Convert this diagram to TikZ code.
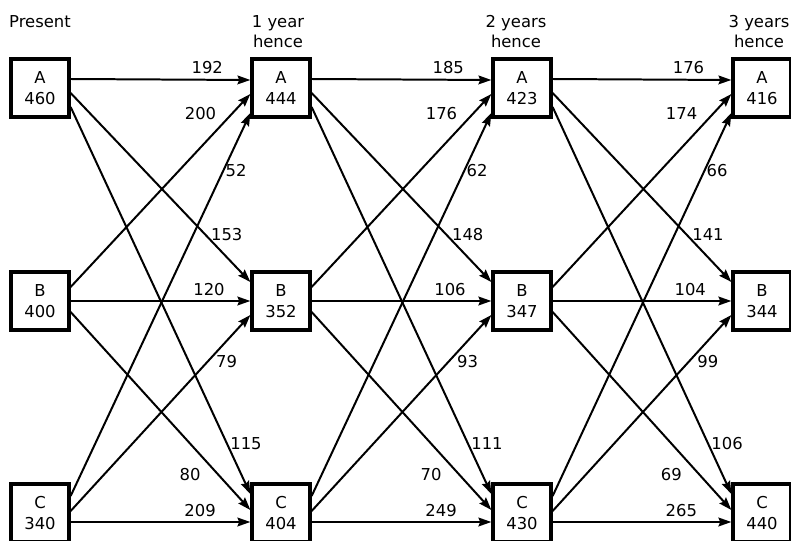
\documentclass[tikz,border=0pt]{standalone}
\usepackage{fontspec}
\setmainfont{DejaVu Sans}
\usetikzlibrary{arrows.meta,calc,positioning}
\tikzset{
  cellbox/.style={draw,line width=2.8pt,minimum width=1.74cm,minimum height=1.74cm,
    inner sep=0pt,align=center},
  flow/.style={->,line width=1.7pt},
  amount/.style={inner sep=2pt},
  period/.style={anchor=north,inner sep=0pt,align=center}
}
\begin{document}
\begin{tikzpicture}[x=0.03cm,y=-0.03cm,>={Stealth[length=11pt,width=7.5pt,inset=1.5pt]},
    font=\fontsize{14}{17.5}\selectfont]
    \useasboundingbox (0,0) rectangle (791,541);
    % --- column headings ---
    \node[period] (now) at (40,15) {Present};
    \node[period] (yr1) at (278,15) {1 year\\hence};
    \node[period] (yr2) at (516,15) {2 years\\hence};
    \node[period] (yr3) at (759,15) {3 years\\hence};
    % --- the three states in each year ---
    \foreach \k/\x/\pa/\pb/\pc in {0/40/460/400/340,1/281/444/352/404,
                                   2/522/423/347/430,3/762/416/344/440}{
      \node[cellbox] (A\k) at (\x,88) {A\\\pa};
      \node[cellbox] (B\k) at (\x,301) {B\\\pb};
      \node[cellbox] (C\k) at (\x,513) {C\\\pc};
    }
    % --- flows from one year to the next ---
    \foreach \k/\n/\aa/\ab/\ac/\ba/\bb/\bc/\ca/\cb/\cc in
        {0/1/192/153/115/200/120/80/52/79/209,
         1/2/185/148/111/176/106/70/62/93/249,
         2/3/176/141/106/174/104/69/66/99/265}{
      \draw[flow] ($(A\k.east)+(0,-9)$) -- ($(A\n.west)+(0,-8)$)
        node[amount,pos=0.76,above=2pt] {\aa};
      \draw[flow] ($(A\k.east)+(0,5)$) -- ($(B\n.west)+(0,-19)$)
        node[amount,pos=0.75,right=2pt] {\ab};
      \draw[flow] ($(A\k.east)+(0,19)$) -- ($(C\n.west)+(0,-19)$)
        node[amount,pos=0.87,right=0pt] {\ac};
      \draw[flow] ($(B\k.east)+(0,-14)$) -- ($(A\n.west)+(0,6)$)
        node[amount,pos=0.9,left=11pt] {\ba};
      \draw[flow] (B\k.east) -- (B\n.west)
        node[amount,pos=0.77,above=2pt] {\bb};
      \draw[flow] ($(B\k.east)+(0,11)$) -- ($(C\n.west)+(0,-3)$)
        node[amount,pos=0.82,left=12pt] {\bc};
      \draw[flow] ($(C\k.east)+(0,-17)$) -- ($(A\n.west)+(0,25)$)
        node[amount,pos=0.85,right=-1pt] {\ca};
      \draw[flow] ($(C\k.east)+(0,-2)$) -- ($(B\n.west)+(0,14)$)
        node[amount,pos=0.765,right=4pt] {\cb};
      \draw[flow] ($(C\k.east)+(0,9)$) -- ($(C\n.west)+(0,9)$)
        node[amount,pos=0.72,above=2pt] {\cc};
    }
\end{tikzpicture}
\end{document}
